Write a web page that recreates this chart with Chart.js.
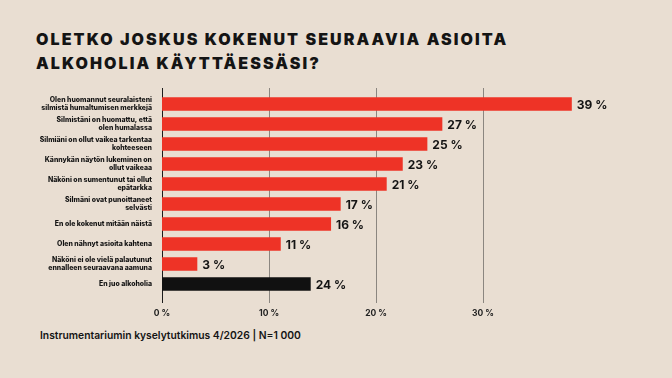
<!DOCTYPE html>
<html lang="fi">
<head>
<meta charset="utf-8">
<script src="https://cdn.jsdelivr.net/npm/chart.js@4"></script>
<style>
  html, body { margin: 0; padding: 0; }
  body { width: 672px; height: 378px; background: #e9ded2; position: relative; overflow: hidden; font-family: Inter, sans-serif; color: #141414; }
  #title { position: absolute; left: 36px; top: 28px; margin: 0; font-size: 16px; font-weight: 900; line-height: 23.5px; letter-spacing: 2.1px; }
  #source { position: absolute; left: 40px; top: 329px; margin: 0; font-size: 10.3px; font-weight: 600; }
  #chart { position: absolute; left: 0; top: 0; }
</style>
</head>
<body>
<h1 id="title">OLETKO JOSKUS KOKENUT SEURAAVIA ASIOITA<br>ALKOHOLIA KÄYTTÄESSÄSI?</h1>
<p id="source">Instrumentariumin kyselytutkimus 4/2026 | N=1 000</p>
<canvas id="chart" width="672" height="378"></canvas>
<script>
const categories = [
    ['Olen huomannut seuralaisteni', 'silmistä humaltumisen merkkejä'],
    ['Silmistäni on huomattu, että', 'olen humalassa'],
    ['Silmiäni on ollut vaikea tarkentaa', 'kohteeseen'],
    ['Kännykän näytön lukeminen on', 'ollut vaikeaa'],
    ['Näköni on sumentunut tai ollut', 'epätarkka'],
    ['Silmäni ovat punoittaneet', 'selvästi'],
    'En ole kokenut mitään näistä',
    'Olen nähnyt asioita kahtena',
    ['Näköni ei ole vielä palautunut', 'ennalleen seuraavana aamuna'],
    'En juo alkoholia'
];
// bar lengths as drawn in the picture
const values = [38.3, 26.2, 24.8, 22.5, 21.0, 16.7, 15.8, 11.1, 3.3, 13.9];
// printed value labels
const valueLabels = ['39 %', '27 %', '25 %', '23 %', '21 %', '17 %', '16 %', '11 %', '3 %', '24 %'];
const tickValues = [0, 10, 20, 30];

const RED = '#ee3326';
const BLACK = '#111111';

const gridPlugin = {
    id: 'gridLines',
    beforeDatasetsDraw(chart) {
        const ctx = chart.ctx;
        const x = chart.scales.x;
        const area = chart.chartArea;
        ctx.save();
        ctx.lineWidth = 1;
        tickValues.forEach(function (v) {
            const px = Math.round(x.getPixelForValue(v)) + 0.5;
            ctx.strokeStyle = v === 0 ? '#1c1c1c' : '#8b8680';
            ctx.beginPath();
            ctx.moveTo(px, area.top - 6);
            ctx.lineTo(px, area.bottom + 9);
            ctx.stroke();
        });
        ctx.restore();
    }
};

const valuePlugin = {
    id: 'valueLabels',
    afterDatasetsDraw(chart) {
        const ctx = chart.ctx;
        const meta = chart.getDatasetMeta(0);
        ctx.save();
        ctx.font = '700 12px Inter';
        ctx.fillStyle = '#141414';
        ctx.textBaseline = 'middle';
        meta.data.forEach(function (bar, i) {
            ctx.fillText(valueLabels[i], bar.x + 5, bar.y + 1);
        });
        ctx.restore();
    }
};

new Chart(document.getElementById('chart'), {
    type: 'bar',
    data: {
        labels: categories,
        datasets: [{
            data: values,
            backgroundColor: values.map(function (v, i) { return i === values.length - 1 ? BLACK : RED; }),
            barPercentage: 0.68,
            categoryPercentage: 1
        }]
    },
    options: {
        indexAxis: 'y',
        responsive: false,
        animation: false,
        layout: { padding: { left: 0, top: 94, right: 82, bottom: 0 } },
        plugins: {
            legend: { display: false },
            tooltip: { enabled: false }
        },
        scales: {
            x: {
                min: 0,
                max: 40,
                afterFit: function (scale) { scale.height = 84; },
                afterBuildTicks: function (scale) {
                    scale.ticks = tickValues.map(function (v) { return { value: v }; });
                },
                grid: { display: false },
                border: { display: false },
                ticks: {
                    padding: 6,
                    color: '#222',
                    font: { family: 'Inter', size: 8.5, weight: '700' },
                    callback: function (v) { return v + ' %'; }
                }
            },
            y: {
                afterFit: function (scale) { scale.width = 162; },
                grid: { display: false },
                border: { display: false },
                ticks: {
                    autoSkip: false,
                    padding: 2,
                    color: '#141414',
                    font: { family: 'Inter', size: 6.9, weight: '800', lineHeight: 1.1 }
                }
            }
        }
    },
    plugins: [gridPlugin, valuePlugin]
});
</script>
</body>
</html>
